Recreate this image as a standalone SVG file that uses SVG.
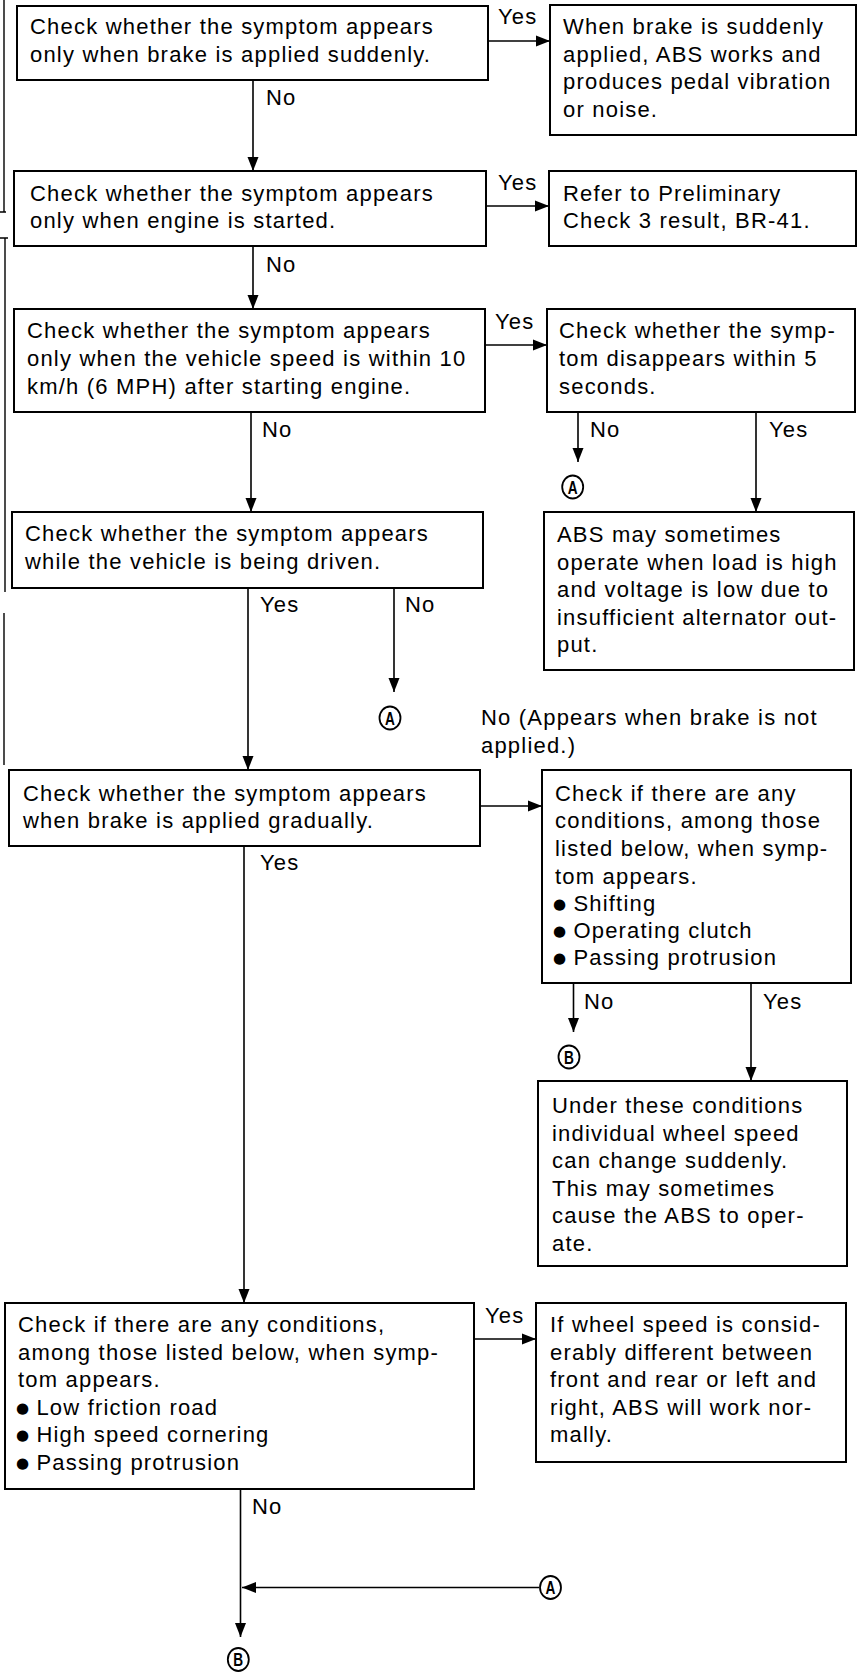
<svg xmlns="http://www.w3.org/2000/svg" width="858" height="1674" viewBox="0 0 858 1674">
<defs>
<style>
.box{fill:#fff;stroke:#000;stroke-width:2}
.t{font-family:"Liberation Sans",Arial,Helvetica,sans-serif;font-size:22px;letter-spacing:1.2px;fill:#000}
.b{font-family:"DejaVu Sans",sans-serif;font-size:15px;letter-spacing:0}
.c{fill:none;stroke:#000;stroke-width:1.6}
.edge{fill:none;stroke:#000;stroke-width:1.4}
.cir{fill:#fff;stroke:#000;stroke-width:1.8}
.cl{font-family:"Liberation Sans",Arial,sans-serif;font-size:19px;font-weight:bold;fill:#000;text-anchor:middle}
</style>
<marker id="ah" markerUnits="userSpaceOnUse" markerWidth="14" markerHeight="12" refX="14" refY="6" orient="auto">
<path d="M0,0.5 L14,6 L0,11.5 z" fill="#000"/>
</marker>
</defs>
<rect width="858" height="1674" fill="#fff"/>

<g id="page-edges">
<path class="edge" d="M4,0 V212 M0,212 H6 M5,238 V592 M0,238 H8 M4,613 V765"/>
</g>

<g id="connectors">
<path class="c" d="M488,41 H550" marker-end="url(#ah)"/>
<path class="c" d="M253,80 V171" marker-end="url(#ah)"/>
<path class="c" d="M486,206 H549" marker-end="url(#ah)"/>
<path class="c" d="M253,246 V309" marker-end="url(#ah)"/>
<path class="c" d="M485,345 H547" marker-end="url(#ah)"/>
<path class="c" d="M251,412 V512" marker-end="url(#ah)"/>
<path class="c" d="M578,412 V462" marker-end="url(#ah)"/>
<path class="c" d="M756,412 V512" marker-end="url(#ah)"/>
<path class="c" d="M248,588 V770" marker-end="url(#ah)"/>
<path class="c" d="M394,588 V692" marker-end="url(#ah)"/>
<path class="c" d="M480,806 H542" marker-end="url(#ah)"/>
<path class="c" d="M573.5,983 V1032" marker-end="url(#ah)"/>
<path class="c" d="M751,983 V1081" marker-end="url(#ah)"/>
<path class="c" d="M244,846 V1303" marker-end="url(#ah)"/>
<path class="c" d="M474,1339 H536" marker-end="url(#ah)"/>
<path class="c" d="M240.5,1489 V1637" marker-end="url(#ah)"/>
<path class="c" d="M539,1587.5 H242" marker-end="url(#ah)"/>
</g>

<g id="edge-labels">
<text class="t" x="498" y="24">Yes</text>
<text class="t" x="266" y="105">No</text>
<text class="t" x="498" y="190">Yes</text>
<text class="t" x="266" y="272">No</text>
<text class="t" x="495" y="329">Yes</text>
<text class="t" x="262" y="437">No</text>
<text class="t" x="590" y="437">No</text>
<text class="t" x="769" y="437">Yes</text>
<text class="t" x="260" y="612">Yes</text>
<text class="t" x="405" y="612">No</text>
<text class="t" x="481" y="725">No (Appears when brake is not</text>
<text class="t" x="481" y="753">applied.)</text>
<text class="t" x="260" y="870">Yes</text>
<text class="t" x="584" y="1009">No</text>
<text class="t" x="763" y="1009">Yes</text>
<text class="t" x="485" y="1323">Yes</text>
<text class="t" x="252" y="1514">No</text>
</g>

<g id="connector-A1"><ellipse class="cir" cx="572.7" cy="487" rx="10.5" ry="11.5"/><text class="cl" transform="translate(572.7,493.5) scale(0.72,1)">A</text></g>
<g id="connector-A2"><ellipse class="cir" cx="390" cy="718" rx="10.5" ry="11.5"/><text class="cl" transform="translate(390,724.5) scale(0.72,1)">A</text></g>
<g id="connector-A3"><ellipse class="cir" cx="550.5" cy="1587.5" rx="10.5" ry="11.5"/><text class="cl" transform="translate(550.5,1594) scale(0.72,1)">A</text></g>
<g id="connector-B1"><ellipse class="cir" cx="569" cy="1057" rx="10.5" ry="11.5"/><text class="cl" transform="translate(569,1063.5) scale(0.72,1)">B</text></g>
<g id="connector-B2"><ellipse class="cir" cx="238.3" cy="1659.5" rx="10.5" ry="11.5"/><text class="cl" transform="translate(238.3,1666) scale(0.72,1)">B</text></g>

<g id="n1">
<rect class="box" x="17" y="6" width="471" height="74"/>
<text class="t" x="30" y="34">Check whether the symptom appears</text>
<text class="t" x="30" y="62">only when brake is applied suddenly.</text>
</g>
<g id="r1">
<rect class="box" x="550" y="5" width="306" height="130"/>
<text class="t" x="563" y="34">When brake is suddenly</text>
<text class="t" x="563" y="62">applied, ABS works and</text>
<text class="t" x="563" y="89">produces pedal vibration</text>
<text class="t" x="563" y="117">or noise.</text>
</g>
<g id="n2">
<rect class="box" x="14" y="171" width="472" height="75"/>
<text class="t" x="30" y="201">Check whether the symptom appears</text>
<text class="t" x="30" y="228">only when engine is started.</text>
</g>
<g id="r2">
<rect class="box" x="549" y="171" width="307" height="75"/>
<text class="t" x="563" y="201">Refer to Preliminary</text>
<text class="t" x="563" y="228">Check 3 result, BR-41.</text>
</g>
<g id="n3">
<rect class="box" x="14" y="309" width="471" height="103"/>
<text class="t" x="27" y="338">Check whether the symptom appears</text>
<text class="t" x="27" y="366">only when the vehicle speed is within 10</text>
<text class="t" x="27" y="394">km/h (6 MPH) after starting engine.</text>
</g>
<g id="r3">
<rect class="box" x="547" y="309" width="308" height="103"/>
<text class="t" x="559" y="338">Check whether the symp-</text>
<text class="t" x="559" y="366">tom disappears within 5</text>
<text class="t" x="559" y="394">seconds.</text>
</g>
<g id="n4">
<rect class="box" x="12" y="512" width="471" height="76"/>
<text class="t" x="25" y="541">Check whether the symptom appears</text>
<text class="t" x="25" y="569">while the vehicle is being driven.</text>
</g>
<g id="r4">
<rect class="box" x="544" y="512" width="310" height="158"/>
<text class="t" x="557" y="542">ABS may sometimes</text>
<text class="t" x="557" y="570">operate when load is high</text>
<text class="t" x="557" y="597">and voltage is low due to</text>
<text class="t" x="557" y="625">insufficient alternator out-</text>
<text class="t" x="557" y="652">put.</text>
</g>
<g id="n5">
<rect class="box" x="9" y="770" width="471" height="76"/>
<text class="t" x="23" y="801">Check whether the symptom appears</text>
<text class="t" x="23" y="828">when brake is applied gradually.</text>
</g>
<g id="r5">
<rect class="box" x="542" y="770" width="309" height="213"/>
<text class="t" x="555" y="801">Check if there are any</text>
<text class="t" x="555" y="828">conditions, among those</text>
<text class="t" x="555" y="856">listed below, when symp-</text>
<text class="t" x="555" y="884">tom appears.</text>
<text class="t" x="553" y="911"><tspan class="b" dy="-2.5">●</tspan><tspan dy="2.5"> Shifting</tspan></text>
<text class="t" x="553" y="938"><tspan class="b" dy="-2.5">●</tspan><tspan dy="2.5"> Operating clutch</tspan></text>
<text class="t" x="553" y="965"><tspan class="b" dy="-2.5">●</tspan><tspan dy="2.5"> Passing protrusion</tspan></text>
</g>
<g id="r6">
<rect class="box" x="538" y="1081" width="309" height="185"/>
<text class="t" x="552" y="1113">Under these conditions</text>
<text class="t" x="552" y="1141">individual wheel speed</text>
<text class="t" x="552" y="1168">can change suddenly.</text>
<text class="t" x="552" y="1196">This may sometimes</text>
<text class="t" x="552" y="1223">cause the ABS to oper-</text>
<text class="t" x="552" y="1251">ate.</text>
</g>
<g id="n7">
<rect class="box" x="5" y="1303" width="469" height="186"/>
<text class="t" x="18" y="1332">Check if there are any conditions,</text>
<text class="t" x="18" y="1360">among those listed below, when symp-</text>
<text class="t" x="18" y="1387">tom appears.</text>
<text class="t" x="16" y="1415"><tspan class="b" dy="-2.5">●</tspan><tspan dy="2.5"> Low friction road</tspan></text>
<text class="t" x="16" y="1442"><tspan class="b" dy="-2.5">●</tspan><tspan dy="2.5"> High speed cornering</tspan></text>
<text class="t" x="16" y="1470"><tspan class="b" dy="-2.5">●</tspan><tspan dy="2.5"> Passing protrusion</tspan></text>
</g>
<g id="r7">
<rect class="box" x="536" y="1303" width="310" height="159"/>
<text class="t" x="550" y="1332">If wheel speed is consid-</text>
<text class="t" x="550" y="1360">erably different between</text>
<text class="t" x="550" y="1387">front and rear or left and</text>
<text class="t" x="550" y="1415">right, ABS will work nor-</text>
<text class="t" x="550" y="1442">mally.</text>
</g>
</svg>
